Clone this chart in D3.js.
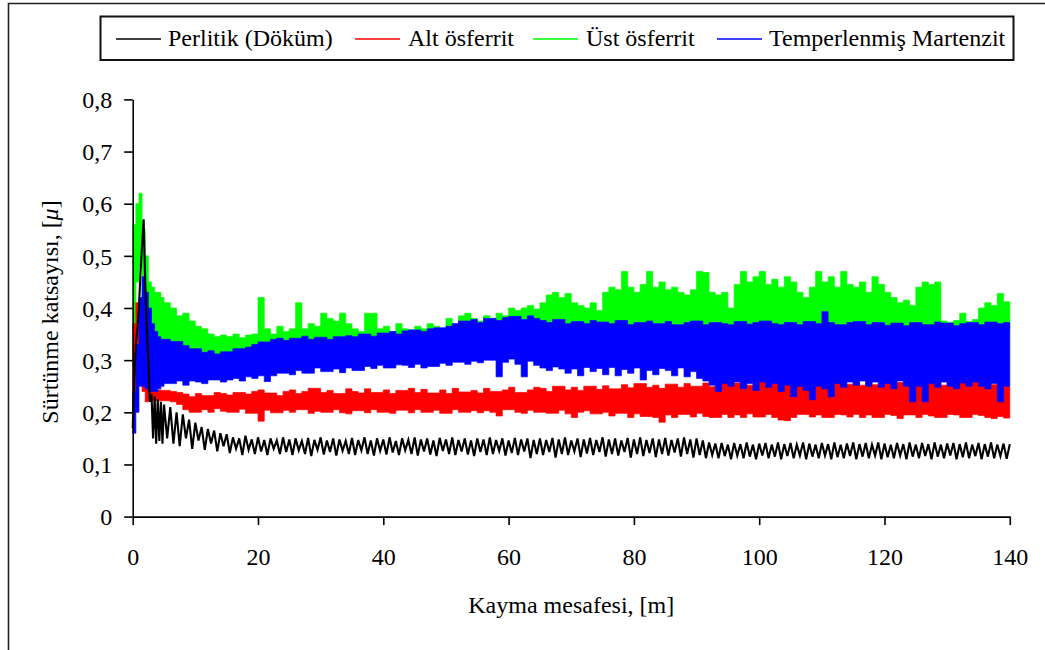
<!DOCTYPE html>
<html>
<head>
<meta charset="utf-8">
<script src="https://cdn.jsdelivr.net/npm/d3@7"></script>
<style>
  html, body { margin: 0; padding: 0; background: #fff; }
  svg { display: block; }
  text { font-family: "Liberation Serif", "Times New Roman", serif; fill: #000; }
</style>
</head>
<body>
<svg id="chart" width="1045" height="650"></svg>
<script>
// Perlitik trace sampling grid [m]: 0.25 m over the running-in, 0.5 m afterwards
const distance = [...d3.range(0, 5, 0.25), ...d3.range(5, 140.25, 0.5)];
// Start of each min/max bin [m] for the dense traces: 0.5 m bins to 5 m, then 1 m bins to 140 m
const binStart = [...d3.range(0, 5, 0.5), ...d3.range(5, 140, 1)];
const binEnd = 140;

const xTicks = [0, 20, 40, 60, 80, 100, 120, 140];
const yTicks = [0, 0.1, 0.2, 0.3, 0.4, 0.5, 0.6, 0.7, 0.8];

const seriesNames = ["Perlitik (Döküm)", "Alt ösferrit", "Üst ösferrit", "Temperlenmiş Martenzit"];
const seriesColors = ["#000000", "#ff0000", "#00ff00", "#0000ff"];

// Friction coefficient trace, Perlitik (Döküm)
const perlitik = [
  0.17,0.26,0.33,0.36,0.40,0.47,0.52,0.57,0.45,0.36,0.30,0.22,0.235,0.15,0.23,0.14,0.225,0.145,0.22,0.14,
  0.215,0.15,0.21,0.14,0.2,0.135,0.196,0.15,0.186,0.13,0.18,0.146,0.172,0.128,0.168,0.14,0.165,0.125,0.16,0.135,
  0.158,0.122,0.152,0.13,0.15,0.118,0.155,0.128,0.148,0.12,0.152,0.125,0.147,0.118,0.15,0.13,0.146,0.12,0.152,0.124,
  0.148,0.118,0.15,0.127,0.145,0.12,0.151,0.116,0.147,0.128,0.152,0.119,0.146,0.124,0.15,0.117,0.148,0.126,0.145,0.12,
  0.151,0.118,0.147,0.127,0.152,0.12,0.146,0.117,0.15,0.126,0.148,0.119,0.152,0.123,0.145,0.118,0.15,0.127,0.147,0.12,
  0.152,0.117,0.148,0.125,0.15,0.119,0.146,0.116,0.151,0.126,0.148,0.12,0.152,0.118,0.147,0.125,0.15,0.119,0.146,0.116,
  0.15,0.124,0.148,0.118,0.152,0.12,0.147,0.126,0.15,0.117,0.146,0.122,0.151,0.118,0.148,0.125,0.15,0.112,0.147,0.12,
  0.15,0.118,0.147,0.124,0.151,0.113,0.148,0.12,0.152,0.118,0.146,0.125,0.15,0.114,0.148,0.121,0.151,0.118,0.147,0.124,
  0.152,0.115,0.148,0.12,0.15,0.117,0.146,0.124,0.151,0.113,0.148,0.12,0.152,0.116,0.147,0.122,0.15,0.114,0.148,0.12,
  0.151,0.117,0.147,0.123,0.15,0.115,0.152,0.12,0.148,0.113,0.15,0.118,0.146,0.112,0.142,0.118,0.14,0.112,0.141,0.116,
  0.138,0.11,0.141,0.117,0.139,0.112,0.142,0.115,0.138,0.11,0.14,0.117,0.141,0.112,0.138,0.115,0.142,0.11,0.139,0.116,
  0.141,0.112,0.138,0.117,0.142,0.11,0.14,0.115,0.138,0.112,0.141,0.117,0.139,0.11,0.142,0.114,0.138,0.112,0.14,0.116,
  0.142,0.11,0.139,0.115,0.141,0.112,0.138,0.117,0.142,0.11,0.14,0.114,0.138,0.112,0.141,0.117,0.139,0.11,0.142,0.115,
  0.138,0.112,0.141,0.116,0.139,0.11,0.142,0.115,0.138,0.112,0.14,0.117,0.141,0.11,0.139,0.114,0.142,0.112,0.138,0.116,
  0.141,0.11,0.139,0.115,0.142,0.112,0.138,0.116,0.14,0.111,0.139
];

// Alt ösferrit: highest / lowest friction coefficient in each bin
const altOsferritMax = [
  0.37,0.41,0.39,0.33,0.3,0.245,0.243,0.242,0.243,0.242,
  0.242,0.24,0.238,0.235,0.23,0.236,0.232,0.232,0.238,0.236,
  0.233,0.238,0.238,0.235,0.24,0.243,0.237,0.237,0.232,0.24,
  0.243,0.236,0.24,0.246,0.246,0.238,0.242,0.236,0.236,0.245,
  0.24,0.237,0.245,0.238,0.238,0.243,0.236,0.242,0.242,0.246,
  0.238,0.244,0.237,0.237,0.243,0.236,0.246,0.239,0.239,0.242,
  0.237,0.246,0.24,0.24,0.243,0.248,0.238,0.238,0.243,0.248,
  0.246,0.24,0.25,0.25,0.243,0.248,0.242,0.25,0.25,0.244,
  0.251,0.245,0.245,0.253,0.247,0.255,0.255,0.248,0.252,0.246,
  0.254,0.254,0.248,0.255,0.25,0.25,0.256,0.249,0.254,0.257,
  0.251,0.256,0.268,0.252,0.252,0.258,0.251,0.259,0.259,0.253,
  0.258,0.252,0.257,0.257,0.253,0.258,0.251,0.259,0.254,0.254,
  0.258,0.252,0.259,0.253,0.253,0.259,0.251,0.257,0.257,0.252,
  0.258,0.254,0.259,0.259,0.252,0.258,0.253,0.257,0.253,0.258,
  0.252,0.259,0.253,0.258,0.25
];
const altOsferritMin = [
  0.2,0.28,0.26,0.24,0.22,0.222,0.222,0.222,0.222,0.222,
  0.222,0.22,0.215,0.205,0.2,0.2,0.205,0.2,0.207,0.202,
  0.2,0.2,0.206,0.198,0.198,0.183,0.204,0.199,0.199,0.204,
  0.2,0.205,0.205,0.198,0.202,0.2,0.2,0.205,0.199,0.197,
  0.203,0.203,0.199,0.205,0.2,0.2,0.198,0.204,0.204,0.199,
  0.205,0.2,0.2,0.204,0.198,0.198,0.205,0.2,0.2,0.203,
  0.199,0.203,0.2,0.193,0.205,0.205,0.2,0.198,0.204,0.2,
  0.2,0.198,0.198,0.204,0.197,0.19,0.2,0.203,0.197,0.197,
  0.2,0.193,0.198,0.198,0.19,0.197,0.192,0.192,0.19,0.181,
  0.195,0.19,0.196,0.196,0.191,0.198,0.192,0.19,0.19,0.196,
  0.19,0.195,0.19,0.197,0.191,0.191,0.196,0.19,0.185,0.184,
  0.19,0.196,0.196,0.191,0.195,0.19,0.19,0.196,0.195,0.191,
  0.196,0.19,0.195,0.19,0.19,0.196,0.194,0.188,0.195,0.195,
  0.19,0.196,0.193,0.19,0.19,0.196,0.195,0.19,0.19,0.196,
  0.194,0.19,0.188,0.192,0.189
];

// Üst ösferrit: highest / lowest friction coefficient in each bin
const ustOsferritMax = [
  0.56,0.6,0.62,0.55,0.5,0.45,0.44,0.43,0.43,0.42,
  0.41,0.4,0.385,0.39,0.375,0.365,0.36,0.35,0.345,0.348,
  0.345,0.35,0.343,0.348,0.35,0.42,0.36,0.35,0.365,0.355,
  0.36,0.41,0.36,0.37,0.365,0.39,0.38,0.375,0.39,0.37,
  0.36,0.355,0.39,0.39,0.36,0.365,0.355,0.37,0.36,0.358,
  0.365,0.36,0.37,0.365,0.36,0.38,0.37,0.385,0.39,0.38,
  0.375,0.385,0.38,0.39,0.385,0.4,0.395,0.4,0.405,0.398,
  0.41,0.425,0.43,0.42,0.428,0.41,0.405,0.4,0.41,0.395,
  0.43,0.44,0.435,0.47,0.44,0.43,0.445,0.47,0.44,0.45,
  0.435,0.44,0.43,0.425,0.435,0.47,0.468,0.43,0.425,0.43,
  0.4,0.445,0.47,0.45,0.46,0.47,0.445,0.455,0.44,0.46,
  0.45,0.43,0.42,0.44,0.47,0.45,0.46,0.44,0.47,0.445,
  0.44,0.45,0.43,0.46,0.445,0.43,0.42,0.41,0.415,0.405,
  0.44,0.45,0.445,0.45,0.375,0.372,0.376,0.39,0.374,0.378,
  0.4,0.41,0.405,0.428,0.412
];
const ustOsferritMin = [
  0.3,0.45,0.48,0.42,0.38,0.36,0.35,0.34,0.33,0.32,
  0.31,0.305,0.31,0.3,0.305,0.295,0.3,0.305,0.31,0.31,
  0.31,0.305,0.31,0.312,0.31,0.31,0.312,0.31,0.31,0.312,
  0.31,0.315,0.312,0.315,0.318,0.32,0.318,0.32,0.32,0.32,
  0.32,0.32,0.32,0.322,0.32,0.322,0.32,0.322,0.325,0.325,
  0.325,0.325,0.328,0.33,0.33,0.33,0.333,0.335,0.335,0.338,
  0.34,0.34,0.34,0.342,0.342,0.345,0.345,0.345,0.348,0.35,
  0.35,0.35,0.352,0.35,0.352,0.35,0.352,0.35,0.352,0.352,
  0.352,0.355,0.352,0.355,0.355,0.355,0.355,0.355,0.355,0.356,
  0.356,0.355,0.356,0.355,0.356,0.355,0.356,0.355,0.356,0.355,
  0.356,0.357,0.356,0.357,0.356,0.357,0.356,0.357,0.356,0.357,
  0.356,0.357,0.356,0.357,0.356,0.357,0.356,0.357,0.356,0.357,
  0.356,0.357,0.356,0.357,0.356,0.357,0.356,0.357,0.356,0.357,
  0.357,0.356,0.357,0.356,0.357,0.36,0.36,0.36,0.36,0.36,
  0.36,0.36,0.36,0.36,0.36
];

// Temperlenmiş Martenzit: highest / lowest friction coefficient in each bin
const temperMartenzitMax = [
  0.24,0.33,0.42,0.46,0.43,0.4,0.37,0.355,0.345,0.34,
  0.34,0.336,0.336,0.328,0.322,0.322,0.315,0.318,0.312,0.316,
  0.316,0.322,0.322,0.325,0.33,0.335,0.335,0.34,0.342,0.338,
  0.342,0.342,0.346,0.34,0.344,0.344,0.34,0.345,0.345,0.347,
  0.345,0.35,0.35,0.346,0.352,0.352,0.355,0.35,0.356,0.358,
  0.358,0.355,0.36,0.362,0.362,0.365,0.37,0.375,0.375,0.378,
  0.372,0.38,0.38,0.376,0.382,0.384,0.384,0.378,0.385,0.38,
  0.376,0.372,0.378,0.378,0.37,0.374,0.374,0.37,0.376,0.373,
  0.373,0.37,0.376,0.376,0.368,0.372,0.372,0.375,0.37,0.37,
  0.374,0.368,0.368,0.372,0.375,0.375,0.368,0.372,0.372,0.37,
  0.368,0.374,0.374,0.369,0.372,0.375,0.375,0.37,0.368,0.372,
  0.372,0.368,0.374,0.374,0.37,0.393,0.372,0.368,0.368,0.372,
  0.374,0.374,0.368,0.372,0.372,0.367,0.371,0.371,0.366,0.372,
  0.372,0.368,0.368,0.373,0.371,0.371,0.366,0.37,0.372,0.372,
  0.368,0.373,0.373,0.37,0.372
];
const temperMartenzitMin = [
  0.16,0.2,0.25,0.25,0.245,0.24,0.24,0.24,0.245,0.25,
  0.255,0.255,0.26,0.252,0.26,0.258,0.255,0.262,0.262,0.258,
  0.262,0.265,0.26,0.268,0.265,0.27,0.259,0.27,0.275,0.275,
  0.272,0.28,0.275,0.275,0.285,0.278,0.278,0.283,0.276,0.285,
  0.28,0.28,0.288,0.284,0.29,0.285,0.285,0.291,0.29,0.286,
  0.292,0.285,0.288,0.288,0.294,0.29,0.296,0.296,0.292,0.298,
  0.295,0.3,0.3,0.268,0.296,0.302,0.292,0.268,0.298,0.29,
  0.285,0.28,0.287,0.283,0.275,0.283,0.27,0.286,0.278,0.284,
  0.272,0.286,0.27,0.282,0.275,0.285,0.262,0.28,0.272,0.284,
  0.28,0.27,0.285,0.268,0.278,0.265,0.26,0.252,0.24,0.255,
  0.25,0.258,0.245,0.255,0.242,0.258,0.248,0.255,0.24,0.252,
  0.23,0.25,0.242,0.224,0.25,0.245,0.23,0.255,0.248,0.258,
  0.252,0.26,0.25,0.258,0.248,0.255,0.245,0.26,0.25,0.22,
  0.25,0.22,0.255,0.248,0.258,0.25,0.245,0.256,0.25,0.258,
  0.25,0.245,0.255,0.22,0.25
];

// ---- layout ----
const svg = d3.select("#chart");
const plot = { left: 132.7, right: 1009.8, top: 99.4, bottom: 516.6 };

const x = d3.scaleLinear().domain([0, 140]).range([plot.left, plot.right]);
const y = d3.scaleLinear().domain([0, 0.8]).range([plot.bottom, plot.top]);

// outer frame (open to the right and bottom edges)
svg.append("path")
  .attr("d", `M8.5,652 L8.5,3.5 L1047,3.5`)
  .attr("fill", "none").attr("stroke", "#222").attr("stroke-width", 1.6);

// ---- series, drawn back to front ----
// Dense traces: each bin is shaded from its lowest to its highest value.
function bins(maxVals, minVals) {
  const b = binStart.map((d, i) => ({ d, lo: minVals[i], hi: maxVals[i] }));
  const last = b[b.length - 1];
  b.push({ d: binEnd, lo: last.lo, hi: last.hi });
  return b;
}

const band = d3.area()
  .curve(d3.curveStepAfter)
  .x(d => x(d.d))
  .y0(d => y(d.lo))
  .y1(d => y(d.hi));

const trace = d3.line()
  .x((d, i) => x(distance[i]))
  .y(d => y(d));

const bands = [
  { max: ustOsferritMax, min: ustOsferritMin, color: seriesColors[2] },
  { max: altOsferritMax, min: altOsferritMin, color: seriesColors[1] },
  { max: temperMartenzitMax, min: temperMartenzitMin, color: seriesColors[3] }
];

const traces = svg.append("g");
bands.forEach(s => {
  traces.append("path")
    .attr("d", band(bins(s.max, s.min)))
    .attr("fill", s.color)
    .attr("stroke", s.color)
    .attr("stroke-width", 0.7)
    .attr("stroke-linejoin", "miter");
});
traces.append("path")
  .attr("d", trace(perlitik))
  .attr("fill", "none")
  .attr("stroke", seriesColors[0])
  .attr("stroke-width", 2.1);

// ---- axes ----
const commaFmt = v => v === 0 ? "0" : d3.format(".1f")(v).replace(".", ",");

const yAxis = svg.append("g")
  .attr("transform", `translate(${plot.left},0)`)
  .call(d3.axisLeft(y).tickValues(yTicks).tickFormat(commaFmt).tickSize(8.5).tickSizeOuter(0).tickPadding(12));

const xAxis = svg.append("g")
  .attr("transform", `translate(0,${plot.bottom})`)
  .call(d3.axisBottom(x).tickValues(xTicks).tickFormat(d3.format("d")).tickSize(8.5).tickSizeOuter(0));

[yAxis, xAxis].forEach(g => {
  g.attr("font-family", null);
  g.selectAll("path, line").attr("stroke", "#000").attr("stroke-width", 1.6);
  g.selectAll("text")
    .style("font-family", '"Liberation Serif", "Times New Roman", serif')
    .style("font-size", "24px")
    .attr("fill", "#000");
});
yAxis.selectAll("text").attr("dy", "0.34em");
xAxis.selectAll("text").attr("y", 48.5).attr("dy", 0);

// axis titles
svg.append("text")
  .attr("x", (plot.left + plot.right) / 2)
  .attr("y", 613)
  .attr("text-anchor", "middle")
  .style("font-size", "24px")
  .text("Kayma mesafesi, [m]");

const yTitle = svg.append("text")
  .attr("transform", `translate(58,312) rotate(-90)`)
  .attr("text-anchor", "middle")
  .style("font-size", "24px");
yTitle.append("tspan").text("Sürtünme katsayısı, [");
yTitle.append("tspan").style("font-style", "italic").text("μ");
yTitle.append("tspan").text("]");

// ---- legend ----
const legend = svg.append("g");
legend.append("rect")
  .attr("x", 100.5).attr("y", 16.5)
  .attr("width", 913).attr("height", 43.5)
  .attr("fill", "#fff").attr("stroke", "#111").attr("stroke-width", 2);

const legendPos = [
  { lx: 116, tx: 168 },
  { lx: 355, tx: 408 },
  { lx: 533, tx: 586 },
  { lx: 717, tx: 769 }
];

const items = legend.selectAll("g.item")
  .data(seriesNames.map((name, i) => ({ name, color: seriesColors[i], ...legendPos[i] })))
  .join("g").attr("class", "item");

items.append("line")
  .attr("x1", d => d.lx).attr("x2", d => d.lx + 45)
  .attr("y1", 39).attr("y2", 39)
  .attr("stroke", d => d.color).attr("stroke-width", 1.6);

items.append("text")
  .attr("x", d => d.tx).attr("y", 46)
  .style("font-size", "24px")
  .text(d => d.name);
</script>
</body>
</html>
